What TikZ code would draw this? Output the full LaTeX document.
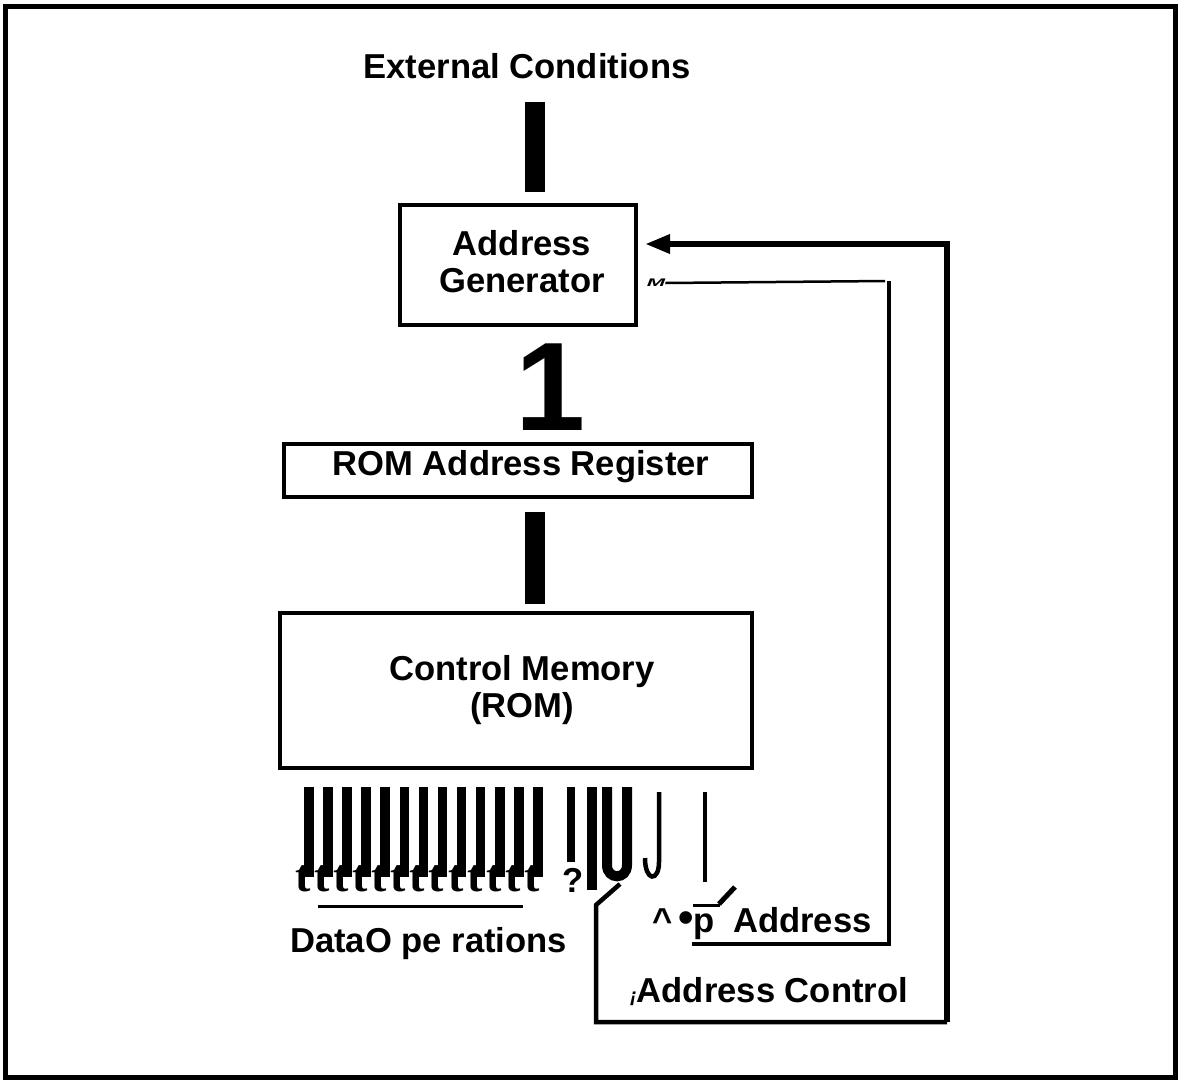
\documentclass[tikz,border=0pt]{standalone}
\usepackage{fontspec}
\setmainfont{Liberation Sans}
\newfontfamily\tfont{Liberation Serif}
\usetikzlibrary{arrows.meta}
\usetikzlibrary{calc}

\tikzset{
    box/.style={draw, line width=4pt, inner sep=0pt, align=center},
    lbl/.style={font=\bfseries\fontsize{34.6}{37}\selectfont, inner sep=0pt},
    tlbl/.style={font=\tfont\bfseries\fontsize{46}{46}\selectfont, inner sep=0pt},
    bus/.style={line width=20pt},
    fb/.style={line width=6pt},
}

\begin{document}
\begin{tikzpicture}[x=1pt,y=-1pt]
    \useasboundingbox (0,0) rectangle (1179,1080);
    % Frame
    \draw[line width=5pt] (5,6) rectangle (1175,1077);

    % Main chain
    \node[lbl, anchor=base] (ext) at (527,78) {External Conditions};
    \coordinate (b1top) at (535,102);
    \coordinate (b1bot) at (535,192);
    \draw[bus] (b1top) -- (b1bot);

    \node[box, minimum width=236pt, minimum height=120pt] (addrgen) at (518,265) {};
    \node[lbl, align=center] (agtext) at (522,262) {Address\\Generator};
    \node[lbl, anchor=base west] (one) at (515,430) {\fontsize{126}{126}\selectfont 1};

    \node[box, minimum width=468pt, minimum height=53pt] (rar) at (518,470.5) {};
    \node[lbl, anchor=base] (rartext) at (521,475) {ROM Address Register};
    \coordinate (b3top) at (535,512);
    \coordinate (b3bot) at (535,604);
    \draw[bus] (b3top) -- (b3bot);

    \node[box, minimum width=472pt, minimum height=155pt] (cm) at (516,690.5) {};
    \node[lbl, align=center] (cmtext) at (522,690) {Control Memory\\(ROM)};

    % Output lines
    \foreach \i in {0,...,12} {
        \fill (304+19.1*\i,787) rectangle ++(9.5,90);
        \node[tlbl, anchor=base west] (t\i) at (295+19.1*\i,891) {t};
    }
    \draw[line width=3pt] (318,906) -- (523,906);
    \node[lbl, anchor=base west] (dops) at (290,952) {DataO pe rations};

    \node[lbl, anchor=base west] (qm) at (562,892) {?};
    \fill (567,787) rectangle (575,862);
    \fill (587,787) rectangle (597,890);
    \draw[line width=10pt] (607,787) -- (607,865) .. controls (607,880) and (627,880) .. (627,865) -- (627,787);
    \draw[line width=4.5pt] (659,792) -- (659,862) .. controls (659,882) and (645,882) .. (645,858);
    \draw[line width=3.5pt] (705,792) -- (705,882);

    % Address control loop
    \coordinate (acfork) at (620,884);
    \coordinate (actl) at (596,905);
    \coordinate (acbl) at (596,1022);
    \coordinate (acbr) at (947,1022);
    \coordinate (fbtr) at (947,244);
    \coordinate (fbtip) at (645,244);
    \draw[line width=4.5pt] (acfork) -- (actl) -- (acbl) -- (acbr);
    \draw[fb, -{Triangle[length=25pt,width=18pt]}] (acbr) -- (fbtr) -- (fbtip);
    \node[lbl, anchor=base west] (acl) at (630,1002) {{\fontsize{20}{20}\selectfont\itshape ¡}Address Control};

    % Micro address
    \node[inner sep=0pt] (m) at (656,283) {\scalebox{1}[0.5]{\fontsize{22}{22}\selectfont\bfseries\itshape M}};
    \coordinate (mend) at (885,281);
    \coordinate (mtr) at (889,281);
    \coordinate (mbr) at (889,944);
    \coordinate (mbl) at (692,944);
    \draw[line width=2.5pt] (m.east) -- (mend);
    \draw[line width=4.5pt] (mtr) -- (mbr) -- (mbl);
    \draw[line width=3pt] (693,905) -- (720,905);
    \draw[line width=5pt] (719,904) -- (735,887);
    \node[lbl, anchor=base west] (mup) at (652,932) {\textasciicircum\,{\fontsize{44}{44}\selectfont•}p};
    \node[lbl, anchor=base west] (maddr) at (733,932) {Address};
\end{tikzpicture}
\end{document}
